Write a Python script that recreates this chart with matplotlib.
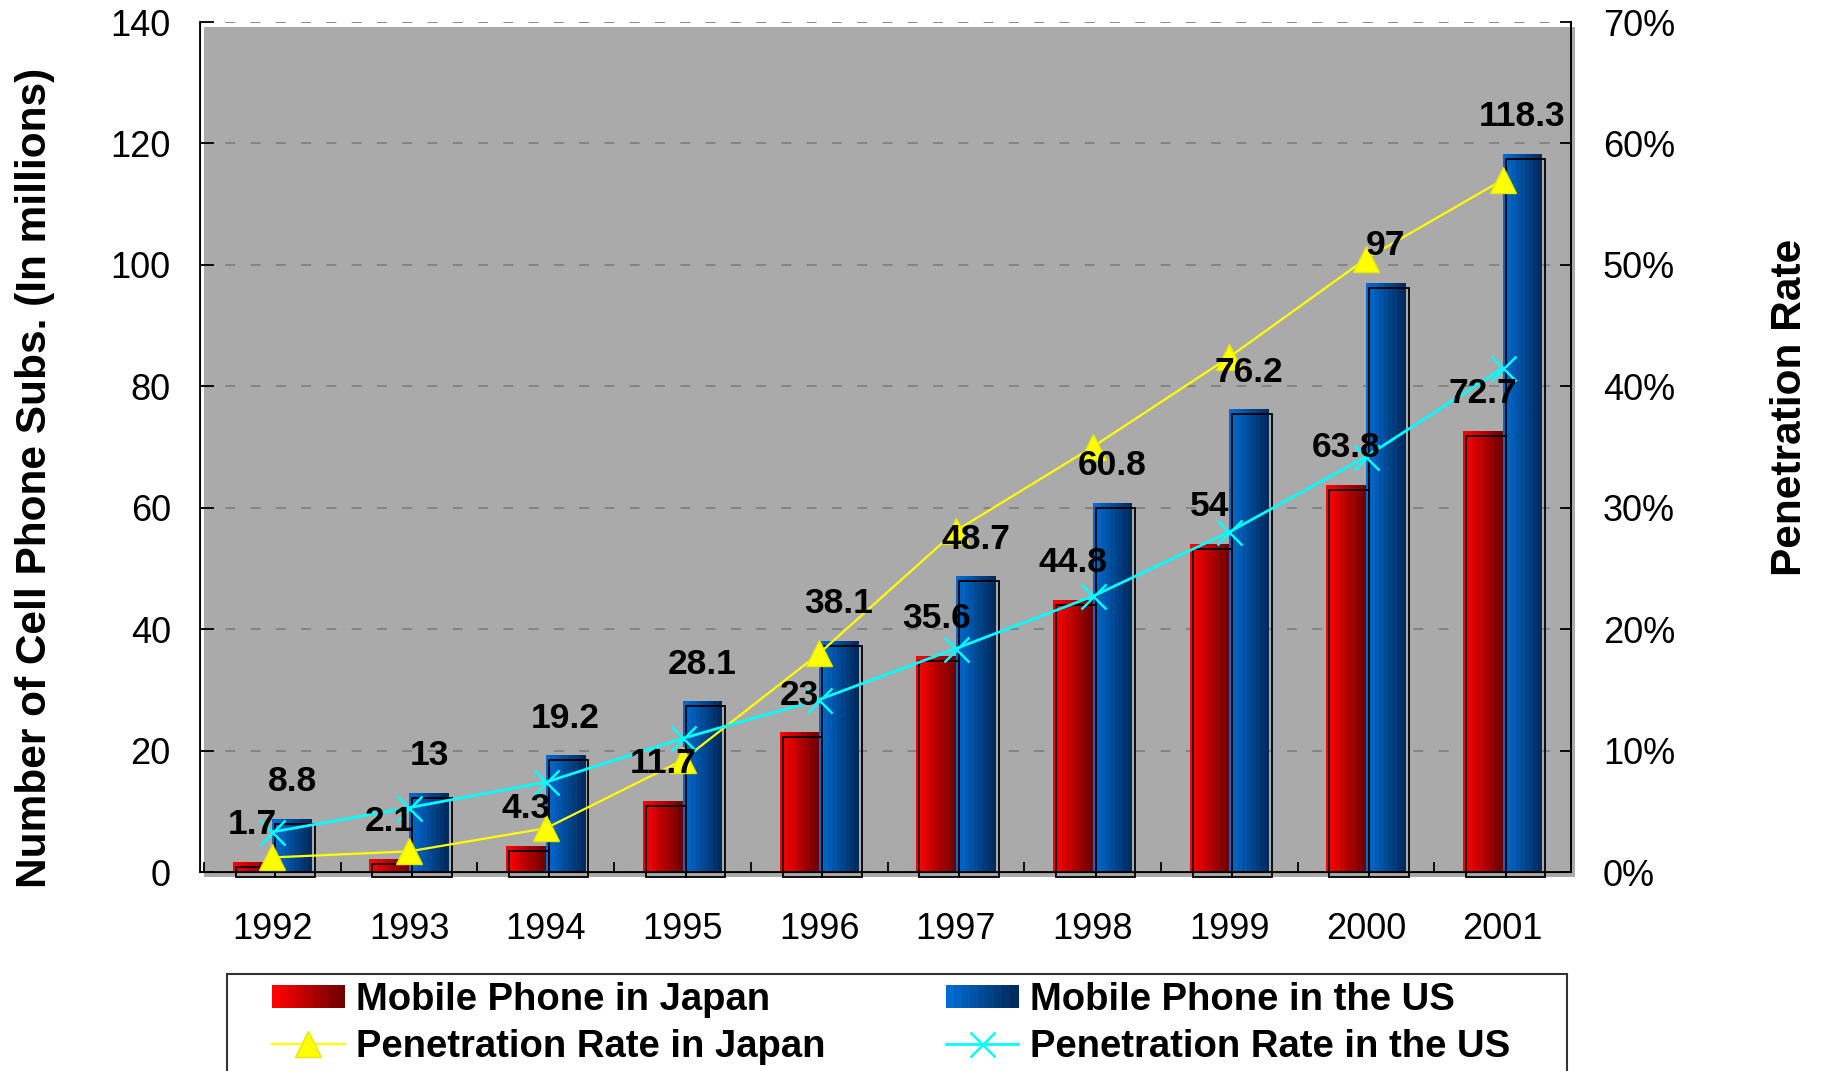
import numpy as np
import matplotlib
matplotlib.use("Agg")
from matplotlib import pyplot as plt
from matplotlib import transforms as mtransforms
from matplotlib.patches import Rectangle
from matplotlib.lines import Line2D
from matplotlib.legend_handler import HandlerBase
from matplotlib.ticker import PercentFormatter, FixedLocator

plt.rcParams['font.family'] = ['Liberation Sans', 'DejaVu Sans']

years = ['1992', '1993', '1994', '1995', '1996', '1997', '1998', '1999', '2000', '2001']
subs_japan = [1.7, 2.1, 4.3, 11.7, 23, 35.6, 44.8, 54, 63.8, 72.7]
subs_us = [8.8, 13, 19.2, 28.1, 38.1, 48.7, 60.8, 76.2, 97, 118.3]
pen_japan = [0.012, 0.017, 0.036, 0.092, 0.180, 0.281, 0.350, 0.424, 0.505, 0.570]
pen_us = [0.033, 0.053, 0.074, 0.110, 0.142, 0.184, 0.227, 0.280, 0.342, 0.415]

RED = ((1.0, 0.0, 0.0), (0.45, 0.0, 0.0))
BLUE = ((0.0, 0.42, 0.82), (0.0, 0.17, 0.37))
N_STRIPES = 9


def stripe_colors(c0, c1, n):
    c0, c1 = np.array(c0), np.array(c1)
    return [tuple(c0 + (c1 - c0) * k / (n - 1)) for k in range(n)]


def gradient_bars(ax, x, heights, width, cols):
    # horizontal shading done as thin vertical slices
    cs = stripe_colors(cols[0], cols[1], N_STRIPES)
    sw = width / N_STRIPES
    for k, c in enumerate(cs):
        ax.bar(x + k * sw, heights, width=sw * 1.02, align='edge', color=c,
               linewidth=0, zorder=2)
    # offset outline gives the boxy 3D look
    outline = ax.bar(x, heights, width=width, align='edge', fill=False,
                     edgecolor='black', linewidth=1.3, zorder=3)
    off = mtransforms.offset_copy(ax.transData, fig=ax.figure, x=3, y=-5, units='dots')
    for p in outline:
        p.set_transform(off)
        p.set_clip_on(False)


class GradientHandler(HandlerBase):
    def __init__(self, cols):
        super().__init__()
        self.cols = cols

    def create_artists(self, legend, orig_handle, xdescent, ydescent,
                       width, height, fontsize, trans):
        cs = stripe_colors(self.cols[0], self.cols[1], N_STRIPES)
        sw = width / N_STRIPES
        return [Rectangle((-xdescent + k * sw, -ydescent), sw * 1.05, height,
                          facecolor=c, edgecolor='none', transform=trans)
                for k, c in enumerate(cs)]


fig = plt.figure(figsize=(18.22, 10.71), dpi=100)
W, H = 1822, 1071
ax = fig.add_axes([200 / W, 1 - 872 / H, 1371 / W, 850 / H])
ax.set_facecolor('none')

# grey back wall, slightly offset from the axis frame
wall_tr = mtransforms.offset_copy(ax.transAxes, fig=fig, x=4, y=-5, units='dots')
ax.add_patch(Rectangle((0, 0), 1, 1, transform=wall_tr, facecolor='#AAAAAA',
                       edgecolor='none', zorder=0, clip_on=False))

x = np.arange(len(years))
bw = 0.29
gradient_bars(ax, x - bw, np.array(subs_japan), bw, RED)
gradient_bars(ax, x, np.array(subs_us), bw, BLUE)

ax.set_xlim(-0.53, 9.5)
ax.set_ylim(0, 140)
ax.set_yticks(np.arange(0, 141, 20))
ax.set_xticks(x)
ax.set_xticklabels(years)
ax.xaxis.set_minor_locator(FixedLocator(np.arange(-0.5, 9.6, 1.0)))
ax.tick_params(axis='x', which='major', length=0, labelsize=26, pad=29)
ax.tick_params(axis='x', which='minor', length=7, width=1.3, direction='in')
ax.tick_params(axis='y', length=10, width=1.3, direction='in', labelsize=26, pad=21)
ax.yaxis.grid(True, color='#808080', linewidth=1.3, dashes=(5.5, 8.5))
ax.set_axisbelow(True)
ax.spines['top'].set_visible(False)
for s in ['left', 'bottom', 'right']:
    ax.spines[s].set_linewidth(1.3)

ax2 = ax.twinx()
ax2.set_ylim(0, 0.7)
ax2.set_yticks(np.arange(0, 0.71, 0.1))
ax2.yaxis.set_major_formatter(PercentFormatter(1.0, decimals=0))
ax2.tick_params(axis='y', length=8, width=1.3, direction='in', labelsize=26, pad=23)
ax2.spines['top'].set_visible(False)
ax2.spines['right'].set_linewidth(1.3)

ax2.plot(x, pen_japan, color='#FFFF00', linewidth=1.6, marker='^', markersize=19,
         markeredgecolor='#E8E800', zorder=4)
ax2.plot(x, pen_us, color='#00FFFF', linewidth=2, marker='x', markersize=18,
         markeredgewidth=1.8, zorder=4)

for i in range(len(years)):
    ax2.annotate(f'{subs_japan[i]:g}', xy=(x[i] - bw / 2, subs_japan[i]),
                 xycoords=ax.transData, xytext=(0, 20), textcoords='offset points',
                 ha='center', va='baseline', fontsize=25.5, fontweight='bold', zorder=6)
    ax2.annotate(f'{subs_us[i]:g}', xy=(x[i] + bw / 2, subs_us[i]),
                 xycoords=ax.transData, xytext=(0, 20), textcoords='offset points',
                 ha='center', va='baseline', fontsize=25.5, fontweight='bold', zorder=6)

fig.text(35 / W, 1 - 478 / H, 'Number of Cell Phone Subs. (In millions)', rotation=90,
         ha='center', va='center', fontsize=30.5, fontweight='bold')
fig.text(1790 / W, 1 - 407 / H, 'Penetration Rate', rotation=90,
         ha='center', va='center', fontsize=30.5, fontweight='bold')

# legend with its own frame running off the bottom edge
fig.patches.append(Rectangle((227 / W, -0.02), 1340 / W, (1071 - 974) / H + 0.02,
                             transform=fig.transFigure, facecolor='white',
                             edgecolor='#333333', linewidth=1.5))
h_jp = Rectangle((0, 0), 1, 1)
h_us = Rectangle((0, 0), 1, 1)
h_pj = Line2D([], [], color='#FFFF00', linewidth=1.6, marker='^', markersize=19,
              markeredgecolor='#E8E800')
h_pu = Line2D([], [], color='#00FFFF', linewidth=2, marker='x', markersize=18,
              markeredgewidth=1.8)
leg = fig.legend([h_jp, h_pj, h_us, h_pu],
                 ['Mobile Phone in Japan', 'Penetration Rate in Japan',
                  'Mobile Phone in the US', 'Penetration Rate in the US'],
                 handler_map={h_jp: GradientHandler(RED), h_us: GradientHandler(BLUE)},
                 ncol=2, loc='upper left', bbox_to_anchor=(272 / W, 1 - 982 / H),
                 bbox_transform=fig.transFigure, frameon=False, borderpad=0,
                 borderaxespad=0, handlelength=1.9, handleheight=0.55,
                 handletextpad=0.3, columnspacing=3.15, labelspacing=0.28,
                 prop={'size': 27.5, 'weight': 'bold'})

fig.savefig('out.png', dpi=100)
